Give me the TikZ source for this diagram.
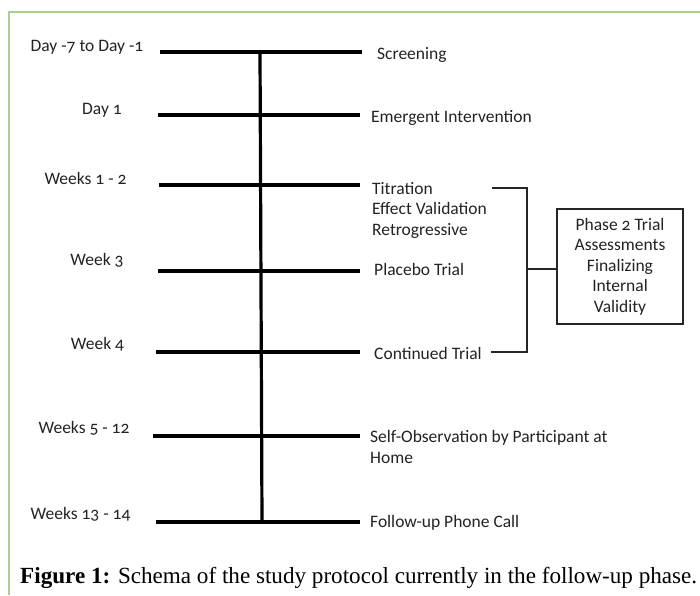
\documentclass[tikz,border=0pt]{standalone}
\usepackage{fontspec}
\setmainfont{Liberation Serif}
\newfontfamily\diag[Numbers=OldStyle]{Carlito}
\definecolor{framegreen}{RGB}{169,208,142}
\definecolor{txt}{RGB}{35,35,35}
\begin{document}
\begin{tikzpicture}[x=1pt,y=-1pt,
  lab/.style={inner sep=0pt,anchor=base,text=txt,font=\diag\fontsize{17.5}{20.5}\selectfont},
  rlab/.style={inner sep=0pt,anchor=base west,text=txt,align=left,font=\diag\fontsize{17.5}{20.5}\selectfont},
  tline/.style={line width=3.2pt,black},
  thin/.style={line width=1.3pt,black!85},
  box/.style={draw=black!85,line width=1.3pt,minimum width=126pt,minimum height=115pt,inner sep=0pt,align=center,text=txt,font=\diag\fontsize{17.5}{20.5}\selectfont}]
\useasboundingbox (0,0) rectangle (700,595);
\fill[white] (0,0) rectangle (700,595);
% frame
\draw[framegreen,line width=2pt] (8.5,595) -- (8.5,12) -- (700,12);
% timeline coordinates
\coordinate (l1) at (160,52);  \coordinate (r1) at (362,52);
\coordinate (l2) at (158,115); \coordinate (r2) at (360,115);
\coordinate (l3) at (159,185); \coordinate (r3) at (360,185);
\coordinate (l4) at (158,271); \coordinate (r4) at (360,271);
\coordinate (l5) at (156,352); \coordinate (r5) at (360,352);
\coordinate (l6) at (153,436); \coordinate (r6) at (360,436);
\coordinate (l7) at (156,522); \coordinate (r7) at (360,522);
\coordinate (vt) at (260,52);  \coordinate (vb) at (262,522);
\foreach \i in {1,...,7} {\draw[tline] (l\i) -- (r\i);}
\draw[tline] (vt) -- (vb);
% left labels
\node[lab] (d1) at (87,51) {Day -7 to Day -1};
\node[lab] (d2) at (102,114) {Day 1};
\node[lab] (d3) at (85.5,184) {Weeks 1 - 2};
\node[lab] (d4) at (97,265) {Week 3};
\node[lab] (d5) at (97.5,349) {Week 4};
\node[lab] (d6) at (84,433) {Weeks 5 - 12};
\node[lab] (d7) at (80.5,519) {Weeks 13 - 14};
% right labels
\node[rlab] (e1) at (377,59) {Screening};
\node[rlab] (e2) at (371,122) {Emergent Intervention};
\node[rlab] (e3) at (372,235) {Titration\\Effect Validation\\Retrogressive};
\node[rlab] (e4) at (374,275) {Placebo Trial};
\node[rlab] (e5) at (374,359) {Continued Trial};
\node[rlab] (e6) at (370,463) {Self-Observation by Participant at\\Home};
\node[rlab] (e7) at (370,527) {Follow-up Phone Call};
% bracket and box
\coordinate (bt0) at (492,188); \coordinate (bt1) at (527,188);
\coordinate (bb0) at (491,352); \coordinate (bb1) at (527,352);
\coordinate (bm) at (527,269);
\node[box] (ph) at (620,266.5) {Phase 2 Trial\\Assessments\\Finalizing\\Internal\\Validity};
\draw[thin] (bt0) -- (bt1) -- (bb1) -- (bb0);
\draw[thin] (bm) -- (bm -| ph.west);
% caption
\node[inner sep=0pt,anchor=base west] (cap) at (20,583) {\resizebox{677pt}{!}{\fontsize{19}{22}\selectfont\textbf{Figure 1:} Schema of the study protocol currently in the follow-up phase.}};
\end{tikzpicture}
\end{document}
